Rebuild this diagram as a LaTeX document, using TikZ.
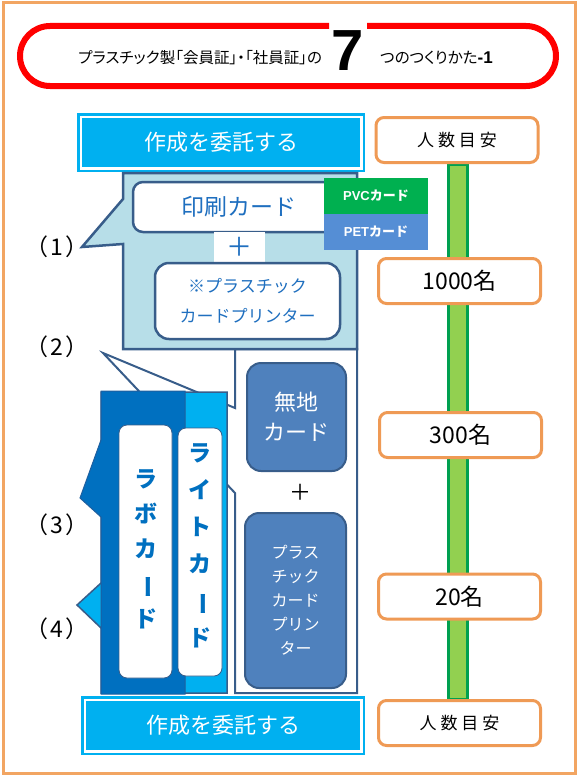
\documentclass[tikz,border=0pt]{standalone}
\usepackage{fontspec}
\usepackage{graphicx}
\setmainfont{Liberation Sans}
\newfontfamily\jp{Noto Sans CJK JP}
\newfontfamily\jpp{Noto Sans CJK JP}[RawFeature=+palt]
\definecolor{cyanbox}{HTML}{00B0F0}
\definecolor{darkblue}{HTML}{0070C0}
\definecolor{darkblueline}{HTML}{1F5F9F}
\definecolor{slate}{HTML}{385D8A}
\definecolor{panelblue}{HTML}{B7DEE8}
\definecolor{steel}{HTML}{4F81BD}
\definecolor{pvcgreen}{HTML}{00B050}
\definecolor{petblue}{HTML}{558ED5}
\definecolor{textblue}{HTML}{1F6FBF}
\definecolor{framecol}{HTML}{F2A562}
\definecolor{boxorange}{HTML}{EF9A55}
\definecolor{barfill}{HTML}{92D050}
\definecolor{barline}{HTML}{00A050}
\newcommand{\fs}[2]{\fontsize{#1}{#2}\selectfont}
\newcommand{\vbar}{\rotatebox[origin=c]{-90}{ー}}
\tikzset{
  box/.style={rectangle, inner sep=0pt, align=center},
  wbox/.style={box, fill=white, draw=slate, line width=2.5pt, rounded corners=10pt},
  cyanbtn/.style={box, fill=cyanbox, draw=cyanbox, double=white, double distance=2.5pt, line width=2.5pt, text=white, font=\jp\fs{22}{26}},
  obox/.style={box, fill=white, draw=boxorange, line width=3pt, rounded corners=8pt, minimum width=162pt, minimum height=45pt},
  lbl/.style={font=\jp\fs{23}{26}, inner sep=0pt},
  vtext/.style={align=center, inner sep=0pt, text=darkblue, font=\jp\bfseries\fs{23}{35}},
  steelbox/.style={box, fill=steel, draw=slate, line width=2pt, rounded corners=14pt, text=white},
  tagbox/.style={box, minimum width=104pt, minimum height=36pt, text=white, font=\bfseries\fs{13}{15}}
}
\begin{document}
\begin{tikzpicture}[x=1pt,y=-1pt]
\useasboundingbox (0,0) rectangle (578,776);
% outer frame
\draw[framecol, line width=3pt] (3,3) rectangle (575,773);
% title capsule
\draw[red, line width=6pt, rounded corners=30pt] (367,26) -| (556,86) -| (20,26) -- (329,26);
\node[anchor=west, inner sep=0pt] (title1) at (78,58) {\jpp\fs{15.5}{17}プラスチック製「会員証」・「社員証」の};
\node[inner sep=0pt] (seven) at (348,51) {\bfseries\fs{58}{60}7};
\node[anchor=west, inner sep=0pt] (title2) at (380,58) {\jpp\fs{15.5}{17}つのつくりかた{\rmfamily\bfseries\fs{17}{18}-1}};

% top button
\node[cyanbtn, minimum width=280.5pt, minimum height=51.5pt] (topbtn) at (221,142.5) {作成を委託する};

% callout (2) white panel
\draw[fill=white, draw=slate, line width=2pt] (235,349) -- (357,349) -- (357,693) -- (235,693) -- (235,493) -- (103,353) -- (235,408) -- cycle;
% callout (1) light blue panel
\draw[fill=panelblue, draw=slate, line width=2.5pt] (123,173) -- (357,173) -- (357,349) -- (123,349) -- (123,244) -- (82,247) -- (123,199) -- cycle;

% inside (1)
\node[wbox, minimum width=212pt, minimum height=50pt, text=textblue, font=\jp\fs{23}{26}] (print) at (239,207) {印刷カード};
\node[tagbox, fill=pvcgreen] (pvc) at (376,196) {PVC{\jp カード}};
\node[tagbox, fill=petblue] (pet) at (376,232) {PET{\jp カード}};
\node[box, fill=white, minimum width=51pt, minimum height=30pt, text=textblue, font=\jp\fs{26}{28}] (plus1) at (239.5,247) {＋};
\node[wbox, rounded corners=14pt, minimum width=185pt, minimum height=76pt, text=textblue, font=\jp\fs{17}{30}] (printer1) at (247.5,301) {※プラスチック\\カードプリンター};

% callout (4) light blue
\draw[fill=cyanbox, draw=slate, line width=1.5pt] (101,392) -- (227,392) -- (227,693) -- (101,693) -- (101,628) -- (77,605) -- (101,583) -- cycle;
% callout (3) dark blue
\draw[fill=darkblue, draw=darkblueline, line width=1pt] (101,391) -- (185,391) -- (185,694) -- (101,694) -- (101,517) -- (80,498) -- (101,440) -- cycle;

% vertical cards
\node[box, fill=white, draw=slate, line width=0.8pt, rounded corners=8pt, minimum width=53pt, minimum height=253pt] (labo) at (145.5,551.5) {};
\node[vtext] (labotext) at (145.5,549) {ラ\\ボ\\カ\\\vbar\\ド};
\node[box, fill=white, draw=slate, line width=0.8pt, rounded corners=8pt, minimum width=44pt, minimum height=248pt] (lite) at (200,552) {};
\node[vtext, font=\jp\bfseries\fs{23}{37}] (litetext) at (200,546) {ラ\\イ\\ト\\カ\\\vbar\\ド};

% inside (2)
\node[steelbox, minimum width=99pt, minimum height=108pt, font=\jp\fs{22}{30}] (muji) at (296.5,417) {無地\\カード};
\node[inner sep=0pt, font=\jp\fs{22}{24}] (plus2) at (300,492) {＋};
\node[steelbox, minimum width=101pt, minimum height=175pt, font=\jp\fs{16}{24}] (printer2) at (295.5,600.5) {プラス\\チック\\カード\\プリン\\ター};

% bottom button
\node[cyanbtn, minimum width=276.5pt, minimum height=51.5pt] (botbtn) at (223,725.5) {作成を委託する};

% labels
\node[lbl] (l1) at (57,247) {（\hspace{2pt}1\hspace{2pt}）};
\node[lbl] (l2) at (57,347) {（\hspace{2pt}2\hspace{2pt}）};
\node[lbl] (l3) at (57,525) {（\hspace{2pt}3\hspace{2pt}）};
\node[lbl] (l4) at (57,629) {（\hspace{2pt}4\hspace{2pt}）};

% right column
\node[box, fill=barfill, draw=barline, line width=3pt, minimum width=19pt, minimum height=535pt] (bar) at (458,431.5) {};
\node[obox, font=\jp\fs{17}{20}] (n0) at (457,140) {人\hspace{4pt}数\hspace{4pt}目\hspace{4pt}安};
\node[obox, font=\jp\fs{23}{26}] (n1) at (459.5,281) {1000名};
\node[obox, font=\jp\fs{23}{26}] (n2) at (460.5,435) {300名};
\node[obox, font=\jp\fs{23}{26}] (n3) at (459.5,596.5) {20名};
\node[obox, font=\jp\fs{17}{20}] (n4) at (459.5,723) {人\hspace{4pt}数\hspace{4pt}目\hspace{4pt}安};
\end{tikzpicture}
\end{document}
